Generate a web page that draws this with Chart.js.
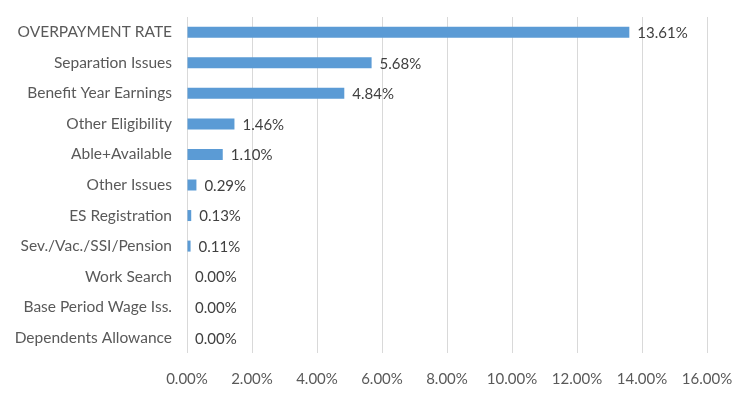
<!DOCTYPE html>
<html>
<head>
<meta charset="utf-8">
<script src="https://cdn.jsdelivr.net/npm/chart.js@4.4.1/dist/chart.umd.min.js"></script>
<style>
  html, body { margin: 0; padding: 0; background: #ffffff; }
  #wrap { width: 750px; height: 397px; }
</style>
</head>
<body>
<div id="wrap"><canvas id="rateChart"></canvas></div>
<script>
// Categorías y valores (en %)
const categories = [
    'OVERPAYMENT RATE',
    'Separation Issues',
    'Benefit Year Earnings',
    'Other Eligibility',
    'Able+Available',
    'Other Issues',
    'ES Registration',
    'Sev./Vac./SSI/Pension',
    'Work Search',
    'Base Period Wage Iss.',
    'Dependents Allowance'
];
const rates = [13.61, 5.68, 4.84, 1.46, 1.10, 0.29, 0.13, 0.11, 0.00, 0.00, 0.00];
const xTicks = [0, 2, 4, 6, 8, 10, 12, 14, 16];

const FONT = "Lato, 'Open Sans', sans-serif";
const TEXT_COLOR = '#595959';

// etiquetas de valor al final de cada barra
const valueLabels = {
    id: 'valueLabels',
    afterDatasetsDraw: (chart) => {
        const { ctx } = chart;
        const meta = chart.getDatasetMeta(0);
        ctx.save();
        ctx.font = `15px ${FONT}`;
        ctx.fillStyle = '#404040';
        ctx.textAlign = 'left';
        ctx.textBaseline = 'middle';
        meta.data.forEach((bar, i) => {
            ctx.fillText(rates[i].toFixed(2) + '%', bar.x + 8, bar.y + 1);
        });
        ctx.restore();
    }
};

new Chart(document.getElementById('rateChart'), {
    type: 'bar',
    data: {
        labels: categories,
        datasets: [{
            data: rates,
            backgroundColor: '#5b9bd5',
            borderWidth: 0,
            barPercentage: 0.72,
            categoryPercentage: 0.5
        }]
    },
    options: {
        indexAxis: 'y',
        responsive: true,
        maintainAspectRatio: false,
        animation: false,
        layout: { padding: { left: 0, right: 43, top: 17, bottom: 0 } },
        plugins: {
            legend: { display: false },
            tooltip: { enabled: false }
        },
        scales: {
            x: {
                min: 0,
                max: 16,
                afterBuildTicks: (scale) => {
                    scale.ticks = xTicks.map(v => ({ value: v }));
                },
                afterFit: (scale) => { scale.height = 44; },
                grid: { color: '#d9d9d9', lineWidth: 1, drawTicks: false },
                border: { display: false },
                ticks: {
                    padding: 17,
                    color: TEXT_COLOR,
                    font: { family: FONT, size: 15 },
                    callback: (v) => Number(v).toFixed(2) + '%'
                }
            },
            y: {
                afterFit: (scale) => {
                    scale.width = 187;
                    // sin relleno extra arriba/abajo por las etiquetas
                    scale.paddingTop = 0;
                    scale.paddingBottom = 0;
                },
                grid: { display: false, drawTicks: false },
                border: { display: false },
                ticks: {
                    padding: 15,
                    color: TEXT_COLOR,
                    font: { family: FONT, size: 15.5 }
                }
            }
        }
    },
    plugins: [valueLabels]
});
</script>
</body>
</html>
